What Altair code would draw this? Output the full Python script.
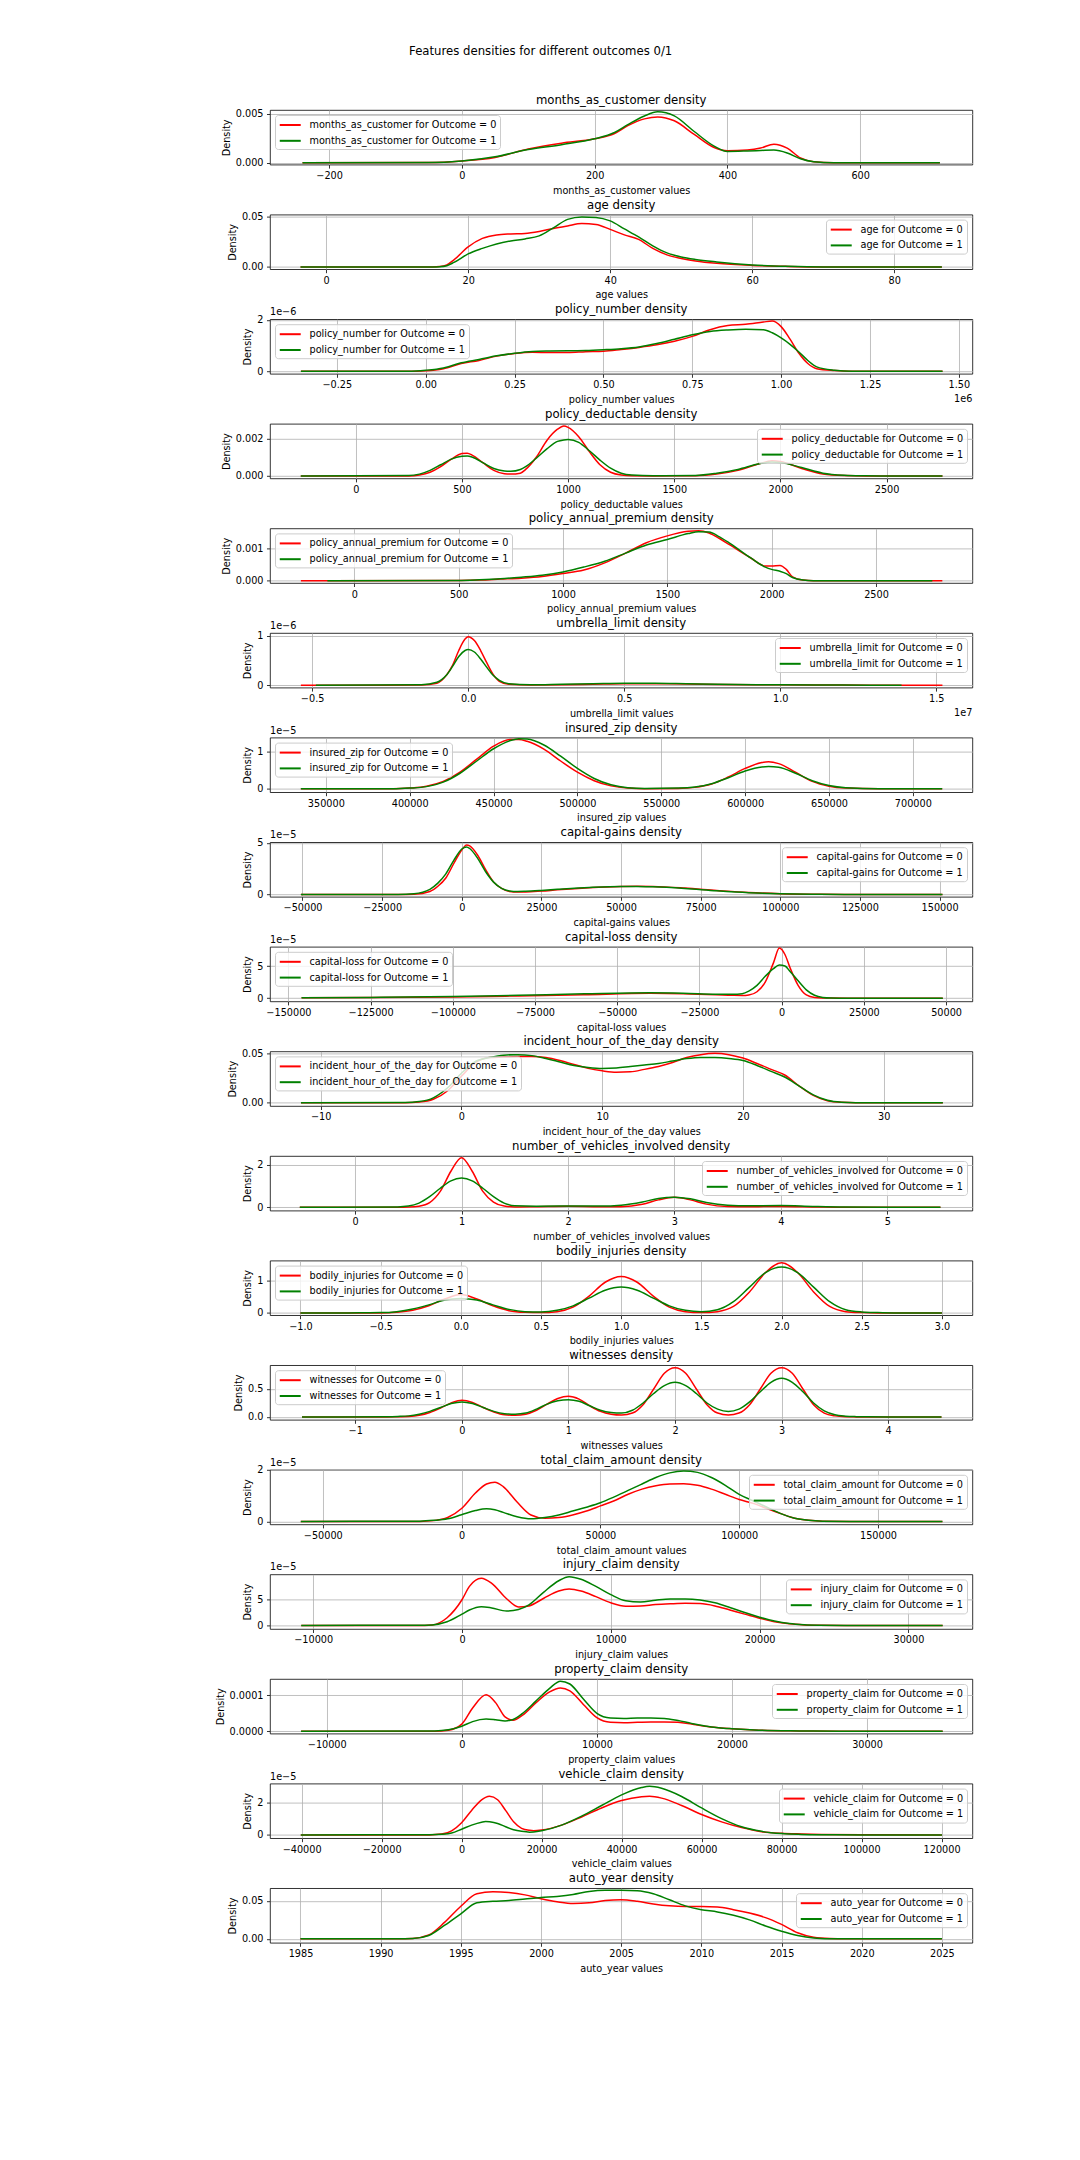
import altair as alt
import pandas as pd

RED = "#ff0000"
GREEN = "#008000"
FONT = "DejaVu Sans"
W, H = 702.4, 54.6

# ---------------- data ----------------
MAC_X = [-240, -50, 0, 50, 100, 150, 200, 230, 250, 275, 295, 320, 350, 380, 400, 430, 450, 470, 490, 510, 530, 560, 720]
MAC_0 = [0, 0.01e-3, 0.17e-3, 0.54e-3, 1.4e-3, 2.0e-3, 2.45e-3, 3.0e-3, 3.8e-3, 4.5e-3, 4.7e-3, 4.3e-3, 2.9e-3, 1.56e-3, 1.22e-3, 1.3e-3, 1.5e-3, 1.9e-3, 1.5e-3, 0.48e-3, 0.1e-3, 0, 0]
MAC_1 = [0, 0.01e-3, 0.17e-3, 0.6e-3, 1.35e-3, 1.85e-3, 2.45e-3, 3.1e-3, 3.9e-3, 4.8e-3, 5.22e-3, 4.8e-3, 3.2e-3, 1.7e-3, 1.15e-3, 1.2e-3, 1.25e-3, 1.3e-3, 1.0e-3, 0.4e-3, 0.1e-3, 0, 0]

AGE_X = [-3.6, 15, 16, 17, 18, 20, 22, 24, 26, 28, 30, 32, 34, 36, 38, 40, 42, 44, 46, 48, 50, 52, 55, 60, 65, 70, 86.7]
AGE_0 = [0, 0, 0.03e-2, 0.2e-2, 0.7e-2, 2.0e-2, 2.85e-2, 3.2e-2, 3.3e-2, 3.35e-2, 3.55e-2, 3.85e-2, 4.1e-2, 4.33e-2, 4.25e-2, 3.75e-2, 3.2e-2, 2.75e-2, 1.85e-2, 1.2e-2, 0.85e-2, 0.6e-2, 0.36e-2, 0.15e-2, 0.05e-2, 0, 0]
AGE_1 = [0, 0, 0.02e-2, 0.12e-2, 0.45e-2, 1.3e-2, 1.85e-2, 2.3e-2, 2.6e-2, 2.8e-2, 3.1e-2, 3.9e-2, 4.75e-2, 5.0e-2, 4.95e-2, 4.6e-2, 3.8e-2, 3.0e-2, 2.1e-2, 1.4e-2, 1.0e-2, 0.75e-2, 0.5e-2, 0.2e-2, 0.06e-2, 0, 0]

# policy_number: x in units of 1e6, density in units of 1e-6
PN_X = [-0.351, -0.05, 0.0, 0.05, 0.1, 0.15, 0.2, 0.25, 0.3, 0.35, 0.4, 0.45, 0.5, 0.55, 0.6, 0.65, 0.7, 0.75, 0.8, 0.85, 0.9, 0.95, 0.975, 1.0, 1.025, 1.05, 1.075, 1.1, 1.15, 1.2, 1.454]
PN_0 = [0, 0, 0.02, 0.1, 0.3, 0.42, 0.59, 0.69, 0.74, 0.73, 0.73, 0.76, 0.78, 0.85, 0.93, 1.03, 1.17, 1.36, 1.62, 1.78, 1.83, 1.92, 1.96, 1.74, 1.25, 0.7, 0.3, 0.1, 0.03, 0, 0]
PN_1 = [0, 0, 0.04, 0.13, 0.33, 0.46, 0.6, 0.7, 0.77, 0.79, 0.8, 0.81, 0.84, 0.88, 0.95, 1.08, 1.25, 1.42, 1.55, 1.61, 1.64, 1.62, 1.5, 1.3, 1.05, 0.75, 0.42, 0.17, 0.04, 0, 0]

PD_X = [-259, 250, 300, 350, 400, 450, 500, 525, 550, 600, 650, 700, 730, 775, 800, 850, 900, 950, 980, 1000, 1050, 1100, 1150, 1200, 1250, 1300, 1400, 1600, 1700, 1800, 1900, 1960, 2000, 2100, 2200, 2300, 2400, 2500, 2763]
PD_0 = [0, 0, 0.05e-3, 0.2e-3, 0.5e-3, 0.9e-3, 1.2e-3, 1.22e-3, 1.1e-3, 0.7e-3, 0.3e-3, 0.12e-3, 0.1e-3, 0.15e-3, 0.35e-3, 1.0e-3, 1.9e-3, 2.5e-3, 2.67e-3, 2.6e-3, 2.1e-3, 1.3e-3, 0.6e-3, 0.2e-3, 0.05e-3, 0.01e-3, 0.005e-3, 0.01e-3, 0.1e-3, 0.3e-3, 0.65e-3, 0.82e-3, 0.78e-3, 0.4e-3, 0.1e-3, 0.02e-3, 0, 0, 0]
PD_1 = [0, 0.02e-3, 0.1e-3, 0.3e-3, 0.6e-3, 0.9e-3, 1.05e-3, 1.07e-3, 1.0e-3, 0.7e-3, 0.4e-3, 0.27e-3, 0.25e-3, 0.35e-3, 0.5e-3, 0.95e-3, 1.45e-3, 1.85e-3, 1.93e-3, 1.95e-3, 1.8e-3, 1.35e-3, 0.85e-3, 0.42e-3, 0.15e-3, 0.05e-3, 0.01e-3, 0.03e-3, 0.15e-3, 0.35e-3, 0.65e-3, 0.75e-3, 0.72e-3, 0.45e-3, 0.15e-3, 0.04e-3, 0.01e-3, 0, 0]

PAP_X = [-256, -129, 500, 600, 700, 800, 900, 1000, 1100, 1200, 1300, 1400, 1500, 1600, 1650, 1700, 1750, 1800, 1900, 1970, 2000, 2040, 2070, 2100, 2150, 2200, 2770, 2818]
PAP_0 = [0, 0, 0.01e-3, 0.02e-3, 0.05e-3, 0.08e-3, 0.13e-3, 0.22e-3, 0.33e-3, 0.55e-3, 0.85e-3, 1.17e-3, 1.38e-3, 1.52e-3, 1.54e-3, 1.47e-3, 1.3e-3, 1.1e-3, 0.7e-3, 0.45e-3, 0.45e-3, 0.47e-3, 0.35e-3, 0.12e-3, 0.02e-3, 0, 0, 0]
PAP_1 = [None, 0, 0.01e-3, 0.03e-3, 0.06e-3, 0.11e-3, 0.17e-3, 0.27e-3, 0.42e-3, 0.6e-3, 0.85e-3, 1.1e-3, 1.27e-3, 1.45e-3, 1.51e-3, 1.5e-3, 1.35e-3, 1.15e-3, 0.7e-3, 0.42e-3, 0.35e-3, 0.29e-3, 0.22e-3, 0.1e-3, 0.02e-3, 0, 0, None]

# umbrella_limit: x in units of 1e7, density in units of 1e-6
UL_X = [-0.536, -0.488, -0.15, -0.1, -0.07, -0.05, -0.03, -0.01, 0.0, 0.02, 0.04, 0.06, 0.08, 0.1, 0.13, 0.2, 0.3, 0.4, 0.5, 0.6, 0.7, 0.8, 1.0, 1.2, 1.389, 1.52]
UL_0 = [0, 0, 0.005, 0.04, 0.2, 0.4, 0.7, 0.93, 0.98, 0.9, 0.7, 0.45, 0.22, 0.08, 0.02, 0.005, 0.01, 0.02, 0.03, 0.03, 0.025, 0.015, 0.008, 0.003, 0, 0]
UL_1 = [None, 0, 0.01, 0.06, 0.2, 0.38, 0.58, 0.7, 0.72, 0.67, 0.53, 0.36, 0.2, 0.1, 0.03, 0.01, 0.02, 0.03, 0.04, 0.04, 0.03, 0.02, 0.01, 0.003, 0, None]

# insured_zip: density in units of 1e-5
IZ_X = [335100, 390000, 400000, 410000, 420000, 430000, 440000, 450000, 460000, 465000, 470000, 480000, 490000, 500000, 510000, 520000, 530000, 540000, 560000, 570000, 580000, 590000, 600000, 610000, 614000, 620000, 630000, 640000, 650000, 660000, 680000, 717500]
IZ_0 = [0, 0, 0.02, 0.07, 0.2, 0.45, 0.8, 1.15, 1.33, 1.33, 1.28, 1.07, 0.75, 0.45, 0.22, 0.08, 0.02, 0.005, 0.01, 0.04, 0.13, 0.32, 0.55, 0.71, 0.73, 0.68, 0.45, 0.2, 0.07, 0.02, 0, 0]
IZ_1 = [0, 0, 0.02, 0.06, 0.18, 0.42, 0.75, 1.08, 1.3, 1.35, 1.34, 1.18, 0.88, 0.55, 0.28, 0.11, 0.03, 0.01, 0.02, 0.05, 0.14, 0.3, 0.48, 0.59, 0.6, 0.58, 0.42, 0.22, 0.09, 0.03, 0, 0]

# capital-gains: density in units of 1e-5
CG_X = [-50500, -20000, -15000, -10000, -7500, -5000, -2500, 0, 1500, 2500, 5000, 7500, 10000, 12500, 15000, 17500, 20000, 25000, 30000, 40000, 50000, 55000, 60000, 70000, 80000, 90000, 100000, 110000, 120000, 150900]
CG_0 = [0, 0, 0.03, 0.3, 0.8, 1.6, 3.0, 4.3, 4.8, 4.7, 3.8, 2.4, 1.2, 0.6, 0.3, 0.25, 0.25, 0.33, 0.45, 0.65, 0.78, 0.8, 0.78, 0.62, 0.4, 0.2, 0.08, 0.03, 0.01, 0]
CG_1 = [0, 0.01, 0.08, 0.5, 1.1, 2.0, 3.3, 4.4, 4.6, 4.45, 3.5, 2.2, 1.2, 0.6, 0.35, 0.3, 0.32, 0.4, 0.5, 0.68, 0.78, 0.78, 0.74, 0.58, 0.36, 0.18, 0.08, 0.03, 0.01, 0]

# capital-loss: density in units of 1e-5
CL_X = [-146000, -125000, -100000, -80000, -60000, -40000, -30000, -20000, -15000, -12000, -10000, -7500, -5000, -2500, -700, 1000, 2500, 5000, 7500, 10000, 12500, 15000, 20000, 49000]
CL_0 = [0.05, 0.1, 0.2, 0.35, 0.55, 0.75, 0.7, 0.55, 0.45, 0.42, 0.5, 1.0, 2.5, 5.5, 7.8, 6.8, 4.8, 2.0, 0.5, 0.1, 0.03, 0.01, 0, 0]
CL_1 = [0.05, 0.12, 0.25, 0.45, 0.68, 0.85, 0.78, 0.62, 0.6, 0.7, 1.1, 2.0, 3.4, 4.6, 5.15, 5.0, 4.2, 2.7, 1.3, 0.45, 0.12, 0.03, 0, 0]

IH_X = [-11.4, -4, -3, -2, -1, 0, 1, 2, 3, 4, 5, 6, 7, 8, 9, 10, 11, 12, 13, 14, 15, 16, 17, 18, 19, 20, 21, 22, 23, 24, 25, 26, 27, 28, 34.2]
IH_0 = [0, 0, 0.07e-2, 0.35e-2, 1.2e-2, 2.7e-2, 4.1e-2, 4.6e-2, 4.65e-2, 4.7e-2, 4.7e-2, 4.6e-2, 4.3e-2, 3.9e-2, 3.5e-2, 3.25e-2, 3.1e-2, 3.15e-2, 3.4e-2, 3.7e-2, 4.1e-2, 4.6e-2, 4.9e-2, 5.03e-2, 4.9e-2, 4.55e-2, 4.0e-2, 3.4e-2, 2.8e-2, 1.7e-2, 0.75e-2, 0.2e-2, 0.04e-2, 0, 0]
IH_1 = [0, 0.02e-2, 0.12e-2, 0.5e-2, 1.5e-2, 3.0e-2, 4.2e-2, 4.6e-2, 4.85e-2, 4.9e-2, 4.8e-2, 4.5e-2, 4.15e-2, 3.8e-2, 3.6e-2, 3.5e-2, 3.55e-2, 3.7e-2, 3.85e-2, 4.0e-2, 4.25e-2, 4.5e-2, 4.62e-2, 4.6e-2, 4.5e-2, 4.3e-2, 3.8e-2, 3.2e-2, 2.6e-2, 1.7e-2, 0.8e-2, 0.25e-2, 0.05e-2, 0, 0]

NV_X = [-0.52, 0.4, 0.5, 0.6, 0.7, 0.8, 0.9, 1.0, 1.1, 1.2, 1.3, 1.4, 1.5, 1.7, 2.0, 2.3, 2.5, 2.7, 2.85, 3.0, 3.15, 3.3, 3.5, 3.7, 4.0, 4.3, 4.6, 5.0, 5.5]
NV_0 = [0, 0, 0.01, 0.05, 0.22, 0.75, 1.7, 2.34, 1.7, 0.75, 0.25, 0.06, 0.02, 0.03, 0.05, 0.03, 0.03, 0.14, 0.35, 0.47, 0.35, 0.15, 0.04, 0.03, 0.04, 0.02, 0, 0, 0]
NV_1 = [0, 0.02, 0.06, 0.2, 0.5, 0.9, 1.25, 1.38, 1.25, 0.9, 0.5, 0.2, 0.07, 0.05, 0.06, 0.06, 0.1, 0.25, 0.42, 0.48, 0.4, 0.23, 0.1, 0.07, 0.08, 0.04, 0.01, 0, 0]

BI_X = [-1.0, -0.9, -0.8, -0.7, -0.6, -0.5, -0.4, -0.3, -0.2, -0.1, 0.0, 0.1, 0.2, 0.3, 0.4, 0.5, 0.6, 0.7, 0.8, 0.9, 1.0, 1.1, 1.2, 1.3, 1.4, 1.5, 1.6, 1.7, 1.8, 1.9, 2.0, 2.1, 2.2, 2.3, 2.4, 2.5, 2.6, 2.7, 2.8, 2.9, 3.0]
BI_0 = [0, 0, 0, 0, 0, 0, 0.02, 0.08, 0.22, 0.43, 0.57, 0.43, 0.22, 0.07, 0.02, 0.01, 0.04, 0.18, 0.52, 0.95, 1.13, 0.95, 0.52, 0.18, 0.04, 0.01, 0.04, 0.2, 0.65, 1.25, 1.55, 1.25, 0.65, 0.2, 0.04, 0.01, 0, 0, 0, 0, 0]
BI_1 = [0, 0, 0, 0, 0.005, 0.01, 0.04, 0.12, 0.25, 0.4, 0.45, 0.4, 0.25, 0.11, 0.04, 0.03, 0.08, 0.22, 0.46, 0.7, 0.8, 0.7, 0.46, 0.22, 0.08, 0.04, 0.1, 0.35, 0.8, 1.25, 1.42, 1.25, 0.8, 0.35, 0.1, 0.03, 0.01, 0, 0, 0, 0]

WI_X = [-1.5, -0.7, -0.6, -0.5, -0.4, -0.3, -0.2, -0.1, 0.0, 0.1, 0.2, 0.3, 0.4, 0.5, 0.6, 0.7, 0.8, 0.9, 1.0, 1.1, 1.2, 1.3, 1.4, 1.5, 1.6, 1.7, 1.8, 1.9, 2.0, 2.1, 2.2, 2.3, 2.4, 2.5, 2.6, 2.7, 2.8, 2.9, 3.0, 3.1, 3.2, 3.3, 3.4, 3.5, 3.6, 3.7, 3.8, 4.0, 4.5]
WI_0 = [0, 0, 0.005, 0.01, 0.03, 0.08, 0.16, 0.25, 0.3, 0.26, 0.17, 0.09, 0.04, 0.03, 0.05, 0.12, 0.23, 0.33, 0.37, 0.32, 0.2, 0.1, 0.05, 0.035, 0.07, 0.22, 0.5, 0.78, 0.88, 0.78, 0.5, 0.22, 0.07, 0.035, 0.07, 0.22, 0.5, 0.78, 0.88, 0.78, 0.5, 0.22, 0.07, 0.02, 0.005, 0.002, 0, 0, 0]
WI_1 = [0, 0.005, 0.01, 0.02, 0.05, 0.1, 0.17, 0.24, 0.27, 0.24, 0.17, 0.1, 0.06, 0.05, 0.07, 0.14, 0.23, 0.29, 0.31, 0.28, 0.2, 0.12, 0.08, 0.07, 0.12, 0.25, 0.42, 0.56, 0.62, 0.56, 0.42, 0.25, 0.14, 0.1, 0.14, 0.27, 0.45, 0.62, 0.69, 0.62, 0.45, 0.25, 0.11, 0.04, 0.015, 0.006, 0.003, 0, 0]

# total_claim_amount: density in units of 1e-5
TC_X = [-57900, -15000, -10000, -5000, 0, 5000, 9000, 12000, 15000, 20000, 25000, 30000, 35000, 40000, 45000, 50000, 55000, 60000, 65000, 70000, 75000, 80000, 85000, 90000, 95000, 100000, 105000, 110000, 115000, 120000, 125000, 130000, 140000, 173200]
TC_0 = [0, 0, 0.03, 0.15, 0.5, 1.1, 1.45, 1.52, 1.35, 0.75, 0.25, 0.12, 0.15, 0.25, 0.4, 0.6, 0.8, 1.05, 1.25, 1.38, 1.45, 1.46, 1.4, 1.25, 1.05, 0.85, 0.7, 0.5, 0.3, 0.12, 0.04, 0.01, 0, 0]
TC_1 = [0, 0.01, 0.04, 0.1, 0.26, 0.42, 0.49, 0.45, 0.35, 0.18, 0.1, 0.15, 0.25, 0.4, 0.55, 0.72, 0.95, 1.2, 1.45, 1.7, 1.88, 1.95, 1.9, 1.7, 1.4, 1.05, 0.8, 0.55, 0.3, 0.12, 0.04, 0.01, 0, 0]

# injury_claim: density in units of 1e-5
IC_X = [-10800, -3000, -2000, -1000, 0, 500, 1300, 2000, 3000, 3800, 4500, 5500, 6500, 7200, 8000, 9000, 10000, 11000, 12000, 13000, 14000, 15000, 16000, 17000, 18000, 19000, 20000, 21000, 22000, 23000, 24000, 26000, 32300]
IC_0 = [0, 0, 0.1, 1.5, 5.0, 7.6, 9.2, 8.2, 5.2, 3.6, 3.8, 5.3, 6.7, 7.1, 6.7, 5.6, 4.4, 3.75, 3.8, 4.05, 4.2, 4.3, 4.25, 3.8, 3.0, 2.2, 1.4, 0.7, 0.3, 0.1, 0.02, 0, 0]
IC_1 = [0, 0.02, 0.1, 0.7, 2.2, 3.0, 3.65, 3.4, 2.8, 3.1, 4.0, 6.5, 8.7, 9.5, 9.0, 7.6, 6.0, 4.8, 4.55, 4.9, 5.15, 5.15, 4.95, 4.4, 3.5, 2.5, 1.6, 0.85, 0.35, 0.12, 0.04, 0, 0]

PC_X = [-11900, -2000, -1000, 0, 800, 1800, 2500, 3200, 3800, 4500, 5500, 6500, 7300, 8000, 9000, 10000, 11000, 12000, 13000, 14000, 15000, 16000, 17000, 18000, 19000, 20000, 22000, 25000, 28000, 35600]
PC_0 = [0, 0, 0.03e-4, 0.2e-4, 0.65e-4, 1.02e-4, 0.8e-4, 0.4e-4, 0.31e-4, 0.45e-4, 0.8e-4, 1.1e-4, 1.21e-4, 1.13e-4, 0.75e-4, 0.38e-4, 0.25e-4, 0.24e-4, 0.25e-4, 0.26e-4, 0.26e-4, 0.25e-4, 0.2e-4, 0.14e-4, 0.1e-4, 0.07e-4, 0.03e-4, 0.01e-4, 0, 0]
PC_1 = [0, 0.01e-4, 0.04e-4, 0.14e-4, 0.27e-4, 0.34e-4, 0.32e-4, 0.29e-4, 0.33e-4, 0.5e-4, 0.85e-4, 1.2e-4, 1.4e-4, 1.32e-4, 0.9e-4, 0.5e-4, 0.37e-4, 0.36e-4, 0.37e-4, 0.37e-4, 0.36e-4, 0.3e-4, 0.22e-4, 0.15e-4, 0.1e-4, 0.07e-4, 0.03e-4, 0.01e-4, 0, 0]

# vehicle_claim: density in units of 1e-5
VC_X = [-40200, -8000, -5000, -2500, 0, 2500, 5000, 6000, 7000, 9000, 11000, 13000, 15000, 17000, 18000, 20000, 25000, 30000, 35000, 40000, 45000, 47000, 50000, 55000, 60000, 65000, 70000, 75000, 80000, 85000, 90000, 100000, 120100]
VC_0 = [0, 0, 0.05, 0.25, 0.75, 1.5, 2.15, 2.3, 2.36, 2.15, 1.5, 0.8, 0.4, 0.28, 0.26, 0.3, 0.6, 1.1, 1.65, 2.1, 2.33, 2.36, 2.25, 1.8, 1.25, 0.8, 0.45, 0.2, 0.1, 0.06, 0.03, 0.01, 0]
VC_1 = [0, 0.01, 0.04, 0.12, 0.35, 0.6, 0.78, 0.82, 0.8, 0.7, 0.5, 0.32, 0.22, 0.17, 0.18, 0.25, 0.6, 1.15, 1.8, 2.45, 2.9, 2.97, 2.85, 2.35, 1.65, 1.0, 0.5, 0.22, 0.08, 0.03, 0.01, 0, 0]

AY_X = [1985, 1991, 1992, 1993, 1994, 1995, 1996, 1997, 1998, 1999, 2000, 2001, 2002, 2003, 2004, 2005, 2006, 2007, 2008, 2009, 2010, 2011, 2012, 2013, 2014, 2015, 2016, 2017, 2018, 2019, 2025]
AY_0 = [0, 0, 0.05e-2, 0.5e-2, 2.2e-2, 4.3e-2, 5.95e-2, 6.2e-2, 6.1e-2, 5.8e-2, 5.3e-2, 4.9e-2, 4.65e-2, 4.75e-2, 5.05e-2, 5.15e-2, 4.95e-2, 4.6e-2, 4.35e-2, 4.25e-2, 4.25e-2, 4.2e-2, 3.85e-2, 3.4e-2, 2.8e-2, 1.9e-2, 0.8e-2, 0.2e-2, 0.03e-2, 0, 0]
AY_1 = [0, 0.01e-2, 0.05e-2, 0.45e-2, 1.8e-2, 3.3e-2, 4.75e-2, 4.95e-2, 5.05e-2, 5.25e-2, 5.45e-2, 5.6e-2, 5.85e-2, 6.25e-2, 6.4e-2, 6.4e-2, 6.35e-2, 5.95e-2, 5.15e-2, 4.35e-2, 3.85e-2, 3.55e-2, 3.1e-2, 2.5e-2, 1.7e-2, 1.0e-2, 0.45e-2, 0.12e-2, 0.02e-2, 0, 0]

MAIN_TITLE = "Features densities for different outcomes 0/1"


def text_layer(txt, x, y, size, align, baseline="alphabetic"):
    return alt.Chart(pd.DataFrame({"t": [txt]})).mark_text(
        align=align, baseline=baseline, fontSize=size, font=FONT, color="black"
    ).encode(text="t:N", x=alt.value(x), y=alt.value(y))


def panel(name, xs, y0, y1, xdom, ydom, xticks, xfmt, yticks, yfmt, legend_pos,
          yexp=None, xexp=None, main=False):
    lab0 = f"{name} for Outcome = 0"
    lab1 = f"{name} for Outcome = 1"
    rows = []
    for x, a in zip(xs, y0):
        if a is not None:
            rows.append({"x": x, "y": a, "s": lab0})
    for x, b in zip(xs, y1):
        if b is not None:
            rows.append({"x": x, "y": b, "s": lab1})
    df = pd.DataFrame(rows)
    lines = alt.Chart(df).mark_line(strokeWidth=1.5, interpolate="monotone").encode(
        x=alt.X("x:Q", scale=alt.Scale(domain=xdom, nice=False, zero=False),
                axis=alt.Axis(values=xticks, format=xfmt, title=f"{name} values")),
        y=alt.Y("y:Q", scale=alt.Scale(domain=ydom, nice=False, zero=False),
                axis=alt.Axis(values=yticks, format=yfmt, title="Density")),
        color=alt.Color("s:N", scale=alt.Scale(domain=[lab0, lab1], range=[RED, GREEN]),
                        legend=alt.Legend(orient=legend_pos, title=None)),
    )
    layers = [lines, text_layer(f"{name} density", W / 2, -6, 11.7, "center")]
    if yexp:
        layers.append(text_layer(yexp, 0, -4, 9.7, "left"))
    if xexp:
        layers.append(text_layer(xexp, W, H + 28, 9.7, "right"))
    if main:
        layers.append(text_layer(MAIN_TITLE, 270.7, -54.7, 11.7, "center"))
    return alt.layer(*layers).properties(width=W, height=H)


panels = [
    panel("months_as_customer", MAC_X, MAC_0, MAC_1, [-289, 769], [-0.0002, 0.00541],
          [-200, 0, 200, 400, 600], "d", [0, 0.005], ".3f", "top-left", main=True),
    panel("age", AGE_X, AGE_0, AGE_1, [-7.9, 91], [-0.0023, 0.0523],
          [0, 20, 40, 60, 80], "d", [0, 0.05], ".2f", "top-right"),
    panel("policy_number", PN_X, PN_0, PN_1, [-0.438, 1.538], [-0.1, 2.03],
          [-0.25, 0, 0.25, 0.5, 0.75, 1.0, 1.25, 1.5], ".2f", [0, 2], "d", "top-left",
          yexp="1e\u22126", xexp="1e6"),
    panel("policy_deductable", PD_X, PD_0, PD_1, [-404, 2904], [-0.00013, 0.00279],
          [0, 500, 1000, 1500, 2000, 2500], "d", [0, 0.002], ".3f", "top-right"),
    panel("policy_annual_premium", PAP_X, PAP_0, PAP_1, [-404, 2962], [-0.00007, 0.00161],
          [0, 500, 1000, 1500, 2000, 2500], "d", [0, 0.001], ".3f", "top-left"),
    panel("umbrella_limit", UL_X, UL_0, UL_1, [-0.635, 1.616], [-0.047, 1.053],
          [-0.5, 0, 0.5, 1.0, 1.5], ".1f", [0, 1], "d", "top-right",
          yexp="1e\u22126", xexp="1e7"),
    panel("insured_zip", IZ_X, IZ_0, IZ_1, [316700, 735500], [-0.09, 1.38],
          [350000, 400000, 450000, 500000, 550000, 600000, 650000, 700000], "d", [0, 1], "d",
          "top-left", yexp="1e\u22125"),
    panel("capital-gains", CG_X, CG_0, CG_1, [-60200, 160300], [-0.22, 5.06],
          [-50000, -25000, 0, 25000, 50000, 75000, 100000, 125000, 150000], "d", [0, 5], "d",
          "top-right", yexp="1e\u22125"),
    panel("capital-loss", CL_X, CL_0, CL_1, [-155600, 58000], [-0.5, 8.0],
          [-150000, -125000, -100000, -75000, -50000, -25000, 0, 25000, 50000], "d", [0, 5], "d",
          "top-left", yexp="1e\u22125"),
    panel("incident_hour_of_the_day", IH_X, IH_0, IH_1, [-13.6, 36.3], [-0.0033, 0.0523],
          [-10, 0, 10, 20, 30], "d", [0, 0.05], ".2f", "top-left"),
    panel("number_of_vehicles_involved", NV_X, NV_0, NV_1, [-0.8, 5.8], [-0.155, 2.42],
          [0, 1, 2, 3, 4, 5], "d", [0, 2], "d", "top-right"),
    panel("bodily_injuries", BI_X, BI_0, BI_1, [-1.19, 3.19], [-0.07, 1.62],
          [-1.0, -0.5, 0, 0.5, 1.0, 1.5, 2.0, 2.5, 3.0], ".1f", [0, 1], "d", "top-left"),
    panel("witnesses", WI_X, WI_0, WI_1, [-1.8, 4.79], [-0.05, 0.925],
          [-1, 0, 1, 2, 3, 4], "d", [0, 0.5], ".1f", "top-left"),
    panel("total_claim_amount", TC_X, TC_0, TC_1, [-69000, 184000], [-0.116, 2.0],
          [-50000, 0, 50000, 100000, 150000], "d", [0, 2], "d", "top-right", yexp="1e\u22125"),
    panel("injury_claim", IC_X, IC_0, IC_1, [-12900, 34300], [-0.7, 9.94],
          [-10000, 0, 10000, 20000, 30000], "d", [0, 5], "d", "top-right", yexp="1e\u22125"),
    panel("property_claim", PC_X, PC_0, PC_1, [-14200, 37800], [-0.065e-4, 1.46e-4],
          [-10000, 0, 10000, 20000, 30000], "d", [0, 0.0001], ".4f", "top-right"),
    panel("vehicle_claim", VC_X, VC_0, VC_1, [-47900, 127700], [-0.2, 3.14],
          [-40000, -20000, 0, 20000, 40000, 60000, 80000, 100000, 120000], "d", [0, 2], "d",
          "top-right", yexp="1e\u22125"),
    panel("auto_year", AY_X, AY_0, AY_1, [1983.1, 2026.9], [-0.0052, 0.0668],
          [1985, 1990, 1995, 2000, 2005, 2010, 2015, 2020, 2025], "d", [0, 0.05], ".2f",
          "top-right"),
]

chart = (
    alt.vconcat(*panels, spacing=2.6)
    .resolve_scale(x="independent", y="independent", color="independent")
    .resolve_legend(color="independent")
    .properties(padding={"left": 214, "top": 45, "right": 10, "bottom": 10})
    .configure_view(stroke="black", strokeWidth=0.8)
    .configure_axis(
        grid=True, gridColor="#b0b0b0", gridWidth=0.8, domain=False,
        tickColor="black", tickWidth=0.8, tickSize=3.5,
        labelFont=FONT, labelFontSize=9.7, labelColor="black", labelPadding=3.5,
        labelFlush=False, labelOverlap=False,
        titleFont=FONT, titleFontSize=9.7, titleFontWeight="normal", titleColor="black",
        titlePadding=4,
    )
    .configure_axisX(labelPadding=2.5, titlePadding=5)
    .configure_legend(
        offset=5, fillColor="rgba(255,255,255,0.8)", strokeColor="#cccccc",
        cornerRadius=3, padding=3.5, symbolType="M-1,0H3", symbolSize=110,
        symbolStrokeWidth=2, labelFont=FONT, labelFontSize=9.7, labelColor="black",
        labelOffset=18, labelLimit=600, rowPadding=3.8,
    )
)

chart.save("out.html", embed_options={"renderer": "svg", "actions": False})
